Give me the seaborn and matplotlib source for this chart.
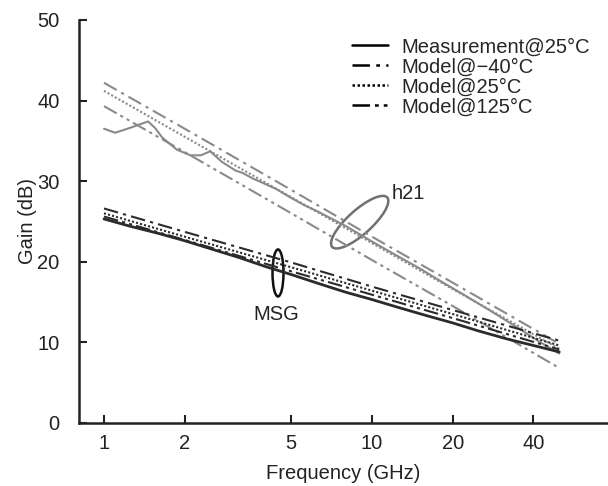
import matplotlib
matplotlib.use("Agg")
import matplotlib.pyplot as plt
import matplotlib.transforms as mtrans
from matplotlib.lines import Line2D
from matplotlib.patches import Ellipse
import seaborn as sns

sns.set_theme(style="ticks")
plt.rcParams["font.family"] = ["Liberation Sans", "DejaVu Sans"]
FS = 14.5

# ---- data ----
# h21 measurement (wiggly at low frequency)
h21_meas_f = [1.0, 1.1, 1.25, 1.46, 1.55, 1.65, 1.87, 2.1, 2.3, 2.49, 2.75, 3.1, 3.3,
              3.6, 3.9, 4.4, 5.0, 5.6, 6.3, 7.1, 8.0, 9.0, 10, 12, 15, 18, 22, 28, 35, 42, 50]
h21_meas = [36.5, 36.0, 36.6, 37.4, 36.6, 35.4, 33.9, 33.2, 33.2, 33.7, 32.4, 31.3, 31.0,
            30.3, 29.8, 29.0, 27.9, 27.0, 26.2, 25.3, 24.4, 23.4, 22.5, 21.0, 19.2, 17.6,
            15.9, 13.8, 11.8, 10.1, 8.6]

model_f = [1, 2, 5, 10, 20, 50]
h21_m40 = [42.2, 36.5, 28.9, 23.1, 17.4, 9.8]
h21_m25 = [41.2, 35.5, 28.0, 22.3, 16.6, 9.2]
h21_m125 = [39.3, 33.6, 26.0, 20.2, 14.5, 6.8]

msg_m40 = [26.6, 23.7, 19.9, 16.9, 14.0, 10.2]
msg_m25 = [26.0, 23.1, 19.3, 16.4, 13.5, 9.6]
msg_m125 = [25.6, 22.7, 18.8, 15.9, 13.0, 9.1]

msg_meas_f = [1.0, 1.25, 1.6, 2.0, 2.5, 3.2, 4.0, 5.0, 6.3, 8.0, 10, 12.6, 16, 20, 25, 32, 40, 50]
msg_meas = [25.3, 24.4, 23.5, 22.6, 21.6, 20.5, 19.4, 18.4, 17.3, 16.2, 15.3, 14.3,
            13.3, 12.4, 11.4, 10.4, 9.6, 8.8]

xticks = [1, 2, 5, 10, 20, 40]
yticks = [0, 10, 20, 30, 40, 50]
legend_labels = ["Measurement@25°C", "Model@\u221240°C", "Model@25°C", "Model@125°C"]

# ---- line styles ----
LS_MEAS = "-"
LS_M40 = (0, (7, 2.5, 1.5, 2.5))
LS_M25 = (0, (1, 1))
LS_M125 = (0, (7, 2, 1.5, 2, 1.5, 2))
GRAY = "#8a8a8a"
DARK = "#2b2b2b"

fig = plt.figure(figsize=(6.08, 4.86), dpi=100)
ax = fig.add_axes([0.130, 0.130, 0.870, 0.829])

h21_series = [(h21_meas_f, h21_meas, LS_MEAS), (model_f, h21_m40, LS_M40),
              (model_f, h21_m25, LS_M25), (model_f, h21_m125, LS_M125)]
msg_series = [(msg_meas_f, msg_meas, LS_MEAS), (model_f, msg_m40, LS_M40),
              (model_f, msg_m25, LS_M25), (model_f, msg_m125, LS_M125)]

for f, g, ls in h21_series:
    sns.lineplot(x=f, y=g, ax=ax, color=GRAY, linestyle=ls, linewidth=1.5, sort=False)
for f, g, ls in msg_series:
    sns.lineplot(x=f, y=g, ax=ax, color=DARK, linestyle=ls,
                 linewidth=2.0 if ls == LS_MEAS else 1.5, sort=False)

ax.set_xscale("log")
ax.set_xlim(0.807, 76)
ax.set_ylim(0, 50)
ax.set_xticks(xticks)
ax.set_xticklabels([str(t) for t in xticks])
ax.minorticks_off()
ax.set_yticks(yticks)
ax.tick_params(direction="in", length=6, width=1.5, labelsize=FS, colors="#222222")
ax.tick_params(axis="x", pad=8)
ax.tick_params(axis="y", pad=14)
for side in ["top", "right"]:
    ax.spines[side].set_visible(False)
for side in ["left", "bottom"]:
    ax.spines[side].set_linewidth(1.8)
    ax.spines[side].set_color("#222222")
ax.set_xlabel("Frequency (GHz)", fontsize=FS, labelpad=8, color="#222222")
ax.set_ylabel("Gain (dB)", fontsize=FS, labelpad=0, color="#222222")

# annotation ellipses (sized in inches around a data point)
def add_ellipse(xd, yd, w, h, angle, color):
    tr = fig.dpi_scale_trans + mtrans.ScaledTranslation(xd, yd, ax.transData)
    ax.add_patch(Ellipse((0, 0), w, h, angle=angle, transform=tr, fill=False,
                         edgecolor=color, linewidth=1.8))

add_ellipse(9.0, 24.9, 0.74, 0.24, 42, "#707070")
add_ellipse(4.46, 18.6, 0.11, 0.47, 0, "#111111")
ax.text(11.8, 28.5, "h21", fontsize=FS, ha="left", va="center", color="#222222")
ax.text(4.4, 13.5, "MSG", fontsize=FS, ha="center", va="center", color="#222222")

handles = [Line2D([], [], color="black", linestyle=ls, linewidth=1.8)
           for ls in [LS_MEAS, LS_M40, LS_M25, LS_M125]]
ax.legend(handles, legend_labels, loc="upper left", bbox_to_anchor=(0.563, 0.944),
          bbox_transform=fig.transFigure, frameon=False, fontsize=FS,
          handlelength=1.75, handletextpad=0.7, labelspacing=0.05, borderpad=0)

fig.savefig("out.png", dpi=100)
